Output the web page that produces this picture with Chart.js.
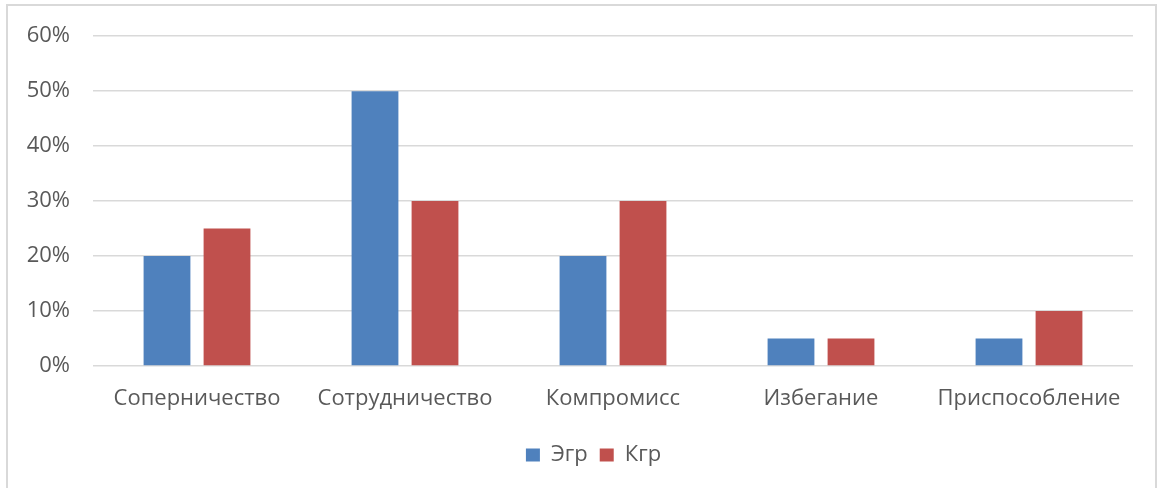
<!DOCTYPE html>
<html>
<head>
<meta charset="utf-8">
<script src="https://cdn.jsdelivr.net/npm/chart.js@4.4.1/dist/chart.umd.min.js"></script>
<style>
    html, body { margin: 0; padding: 0; background: #fff; }
    #wrap { position: relative; width: 1160px; height: 488px; }
    #frame {
        position: absolute; left: 6px; top: 4px; width: 1151px; height: 490px;
        border: 2px solid #d9d9d9; box-sizing: border-box; pointer-events: none;
    }
</style>
</head>
<body>
<div id="wrap">
    <canvas id="styleChart" width="1160" height="488"></canvas>
    <div id="frame"></div>
</div>
<script>
const categories = ["Соперничество", "Сотрудничество", "Компромисс", "Избегание", "Приспособление"];
const egrValues = [20, 50, 20, 5, 5];
const kgrValues = [25, 30, 30, 5, 10];
const seriesNames = ["Эгр", "Кгр"];
const yTicksMax = 60;
const yTicksStep = 10;

// legend in the original sits centred under the plot, not the whole canvas
const legendShift = {
    id: "legendShift",
    afterLayout: function (chart) {
        if (chart.legend) {
            chart.legend.left += 54;
        }
    }
};

document.addEventListener("DOMContentLoaded", function () {

    const ctx = document.getElementById("styleChart");

    Chart.defaults.font.family = "'Open Sans', 'Noto Sans', sans-serif";
    Chart.defaults.font.size = 22;
    Chart.defaults.color = "#595959";

    new Chart(ctx, {
        type: "bar",
        data: {
            labels: categories,
            datasets: [{
                label: seriesNames[0],
                data: egrValues,
                backgroundColor: "#4f81bd",
                borderWidth: 0
            }, {
                label: seriesNames[1],
                data: kgrValues,
                backgroundColor: "#c0504d",
                borderWidth: 0
            }]
        },
        options: {
            responsive: false,
            animation: false,
            categoryPercentage: 0.577,
            barPercentage: 0.78,
            layout: {
                padding: { left: 0, right: 27, top: 33, bottom: 12 }
            },
            scales: {
                x: {
                    grid: { display: false, drawTicks: false },
                    border: { display: false },
                    ticks: { padding: 20, maxRotation: 0 },
                    afterFit: function (scale) { scale.height = 66; }
                },
                y: {
                    min: 0,
                    max: yTicksMax,
                    grid: { color: "#d9d9d9", lineWidth: 1.5, drawTicks: false },
                    border: { display: false },
                    ticks: {
                        stepSize: yTicksStep,
                        padding: 23,
                        callback: function (v) { return v + "%"; }
                    },
                    afterFit: function (scale) { scale.width = 93; }
                }
            },
            plugins: {
                legend: {
                    position: "bottom",
                    labels: { boxWidth: 14, boxHeight: 13, padding: 12 }
                },
                tooltip: { enabled: false }
            }
        },
        plugins: [legendShift]
    });

});
</script>
</body>
</html>
